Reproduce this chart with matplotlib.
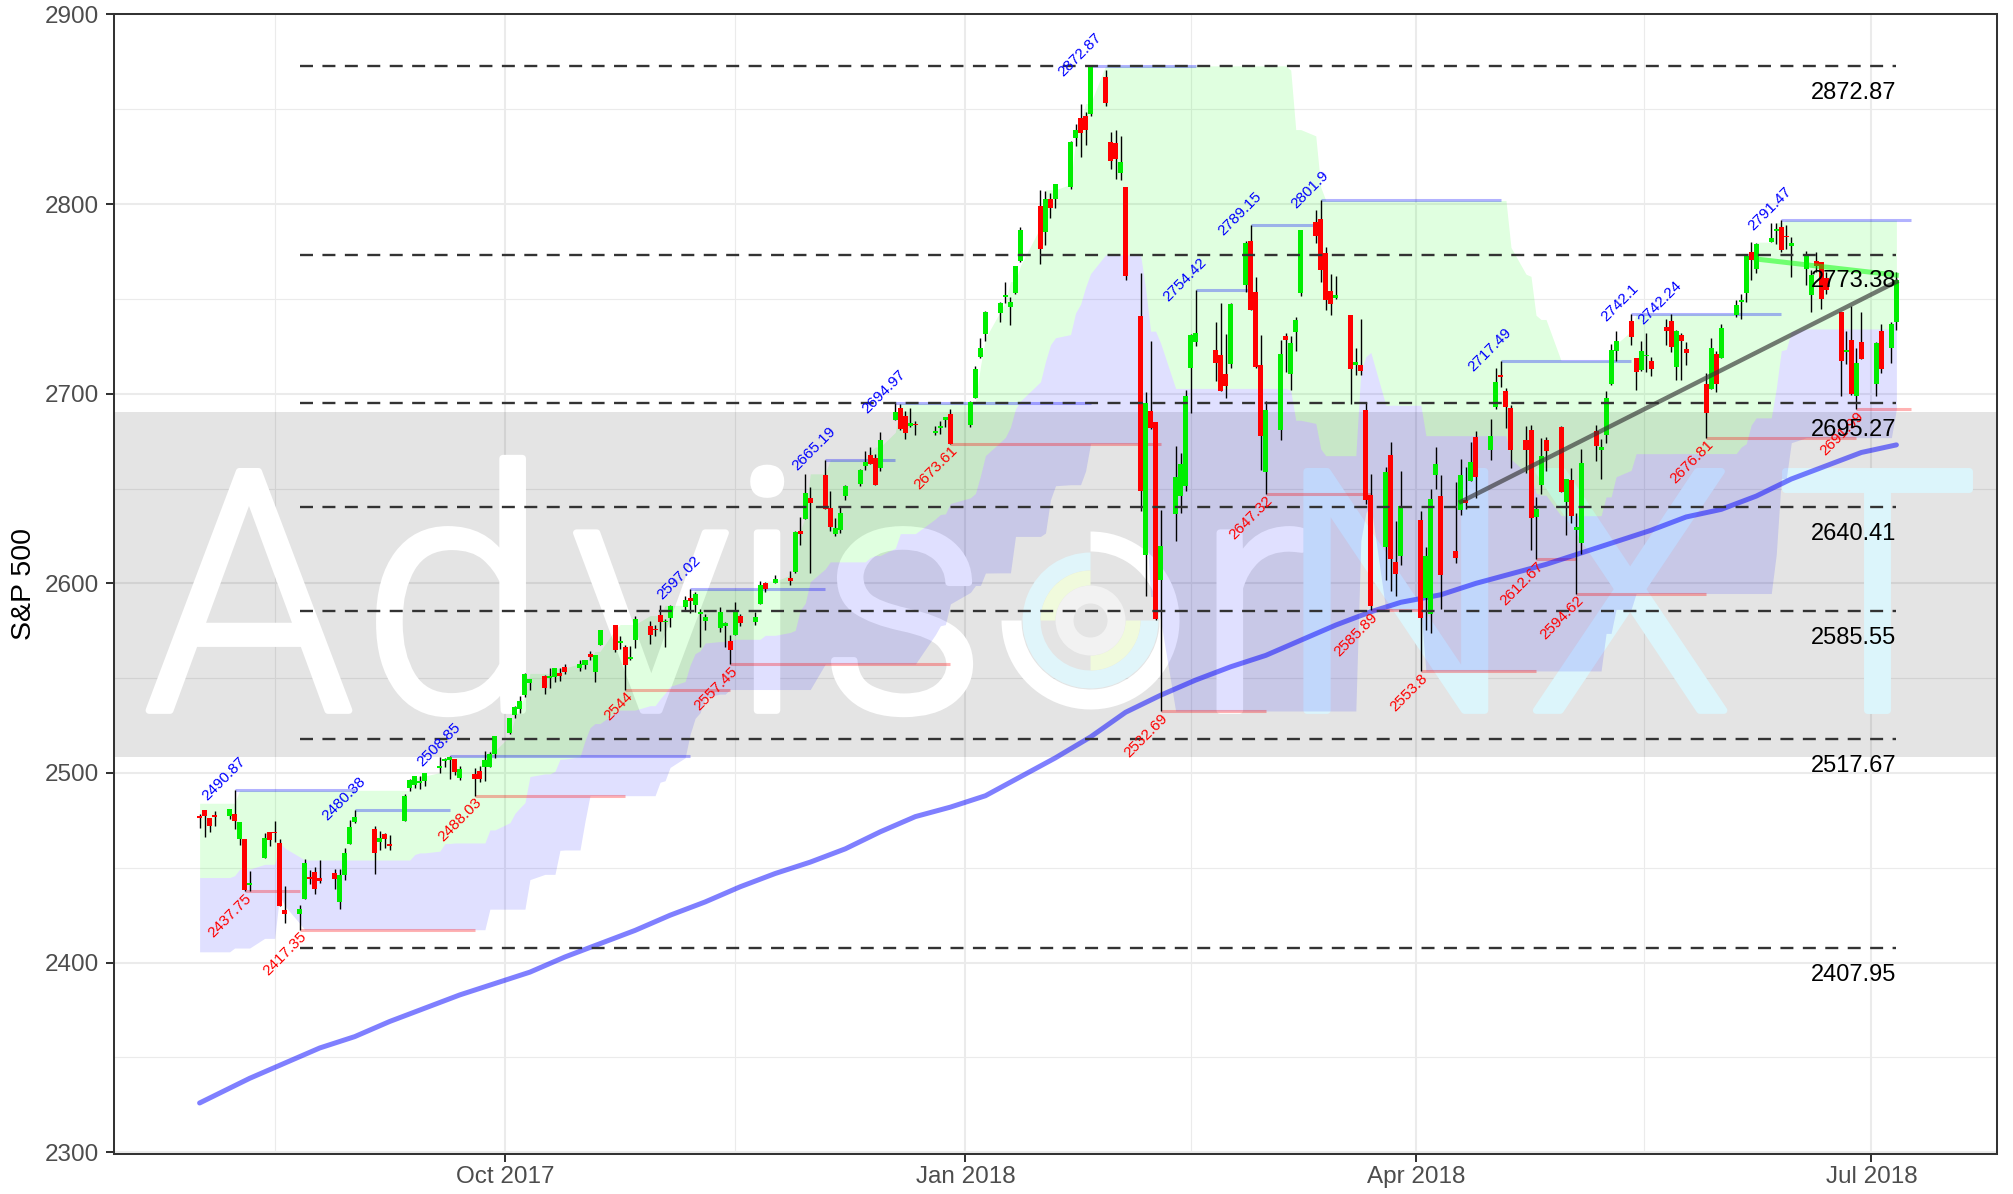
import numpy as np
import pandas as pd
import matplotlib
matplotlib.use("Agg")
import matplotlib.pyplot as plt
import matplotlib.dates as mdates
import matplotlib.patches as mpatches
import matplotlib.transforms as mtransforms
import matplotlib.patheffects as pe
from matplotlib import font_manager
from matplotlib.ticker import MultipleLocator, FixedLocator

plt.rcParams['font.family'] = ['Liberation Sans', 'DejaVu Sans']

# trading days 2017-06-23 .. 2018-07-06 (the first 26 rows only feed the channel)
holidays = ['2017-07-04', '2017-09-04', '2017-11-23', '2017-12-25', '2018-01-01',
            '2018-01-15', '2018-02-19', '2018-03-30', '2018-05-28', '2018-07-04']
days = pd.bdate_range('2017-06-23', '2018-07-06')
days = days[~days.isin(pd.to_datetime(holidays))]

opens = [
    # Jun 2017
    2434.65, 2443.32, 2436.34, 2428.70, 2442.38, 2429.20,
    # Jul 2017
    2431.39, 2430.78, 2423.44, 2413.52, 2424.51, 2427.35, 2435.75, 2444.99, 2449.16, 2459.50,
    2455.88, 2463.85, 2475.56, 2467.40, 2472.04, 2477.88, 2479.97, 2482.76, 2469.12, 2475.94,
    # Aug 2017
    2477.10, 2480.38, 2476.03, 2476.88, 2477.14, 2478.35, 2465.35, 2465.38, 2441.04, 2454.96,
    2468.66, 2468.63, 2462.95, 2427.64, 2425.50, 2433.75, 2444.88, 2447.91, 2444.72, 2447.35,
    2431.94, 2446.06, 2462.65,
    # Sep 2017
    2474.42, 2470.35, 2463.83, 2468.06, 2462.25, 2474.52, 2491.94, 2493.89, 2494.56, 2495.67,
    2502.51, 2506.29, 2506.84, 2507.16, 2497.26, 2499.39, 2501.04, 2503.30, 2503.41, 2509.96,
    # Oct 2017
    2521.20, 2530.34, 2533.48, 2540.86, 2547.44, 2551.39, 2549.99, 2550.62, 2552.88, 2555.66,
    2555.57, 2557.17, 2562.87, 2553.39, 2567.56, 2578.08, 2568.66, 2566.52, 2560.08, 2570.26,
    2577.75, 2575.99,
    # Nov 2017
    2583.21, 2579.46, 2581.93, 2587.47, 2592.11, 2588.71, 2584.00, 2580.18, 2576.53, 2577.75,
    2569.45, 2572.95, 2582.94, 2579.49, 2589.17, 2600.31, 2600.42, 2602.66, 2605.94, 2627.82,
    2633.93,
    # Dec 2017
    2645.10, 2657.19, 2639.78, 2626.24, 2628.38, 2646.21, 2652.19, 2661.73, 2667.59, 2665.87,
    2660.63, 2685.92, 2692.71, 2688.18, 2683.02, 2684.22, 2679.09, 2682.10, 2686.10, 2689.15,
    # Jan 2018
    2683.73, 2697.85, 2719.31, 2731.33, 2742.67, 2751.15, 2745.55, 2752.97, 2770.18, 2798.96,
    2784.99, 2802.40, 2802.60, 2809.16, 2835.05, 2845.42, 2846.24, 2847.48, 2866.86, 2832.74,
    2832.41,
    # Feb 2018
    2816.45, 2808.92, 2741.06, 2614.78, 2690.95, 2685.01, 2601.78, 2636.75, 2646.27, 2651.21,
    2713.46, 2727.14, 2722.99, 2720.53, 2710.42, 2715.80, 2757.37, 2780.45, 2753.78,
    # Mar 2018
    2715.22, 2658.89, 2681.06, 2730.18, 2710.18, 2732.75, 2752.91, 2790.54, 2792.31, 2774.06,
    2754.27, 2750.57, 2741.38, 2715.05, 2714.99, 2691.36, 2646.71, 2619.35, 2667.57, 2611.30,
    2614.41,
    # Apr 2018
    2633.45, 2592.17, 2584.04, 2657.36, 2645.82, 2617.18, 2638.41, 2643.69, 2653.83, 2676.90,
    2670.10, 2692.74, 2710.11, 2701.16, 2692.56, 2675.40, 2680.80, 2634.92, 2651.65, 2675.47,
    2682.51,
    # May 2018
    2642.96, 2654.24, 2628.08, 2621.45, 2680.34, 2670.26, 2678.12, 2705.02, 2722.70, 2738.47,
    2718.59, 2712.62, 2719.71, 2717.35, 2735.39, 2738.34, 2713.98, 2730.94, 2723.60, 2705.11,
    2702.43, 2720.98,
    # Jun 2018
    2718.70, 2741.67, 2748.46, 2753.25, 2774.84, 2765.84, 2780.18, 2785.60, 2787.94, 2783.21,
    2777.78, 2765.79, 2752.01, 2769.73, 2769.28, 2760.79, 2742.94, 2722.12, 2728.45, 2698.69,
    2727.13,
    # Jul 2018
    2704.95, 2733.27, 2724.19, 2737.68,
]

highs = [
    2441.40, 2450.42, 2440.15, 2442.97, 2442.73, 2432.71,
    2439.17, 2434.90, 2424.28, 2426.92, 2432.00, 2429.30, 2445.76, 2449.32, 2463.54, 2462.82,
    2460.92, 2473.83, 2477.62, 2472.54, 2473.10, 2481.24, 2481.69, 2484.04, 2473.53, 2477.96,
    2478.51, 2480.38, 2476.03, 2480.00, 2480.95, 2490.87, 2474.41, 2465.38, 2448.09, 2468.22,
    2468.90, 2474.93, 2465.02, 2440.27, 2430.58, 2454.77, 2448.91, 2450.39, 2453.96, 2449.12,
    2449.19, 2460.31, 2475.01,
    2480.38, 2471.97, 2469.64, 2468.62, 2467.11, 2488.95, 2496.77, 2498.37, 2498.43, 2500.23,
    2508.32, 2507.84, 2508.85, 2507.16, 2503.47, 2502.54, 2503.51, 2511.75, 2510.81, 2519.44,
    2529.23, 2535.13, 2540.53, 2552.51, 2549.41, 2551.82, 2555.23, 2555.24, 2555.33, 2557.65,
    2559.47, 2559.71, 2564.11, 2562.36, 2575.44, 2578.29, 2572.18, 2567.40, 2567.07, 2582.98,
    2580.03, 2578.29,
    2588.40, 2581.11, 2588.42, 2593.38, 2597.02, 2595.47, 2586.50, 2583.81, 2587.66, 2579.66,
    2572.84, 2590.09, 2583.96, 2584.64, 2601.19, 2600.94, 2604.21, 2606.41, 2627.69, 2634.89,
    2657.74,
    2650.62, 2665.19, 2648.72, 2634.41, 2640.99, 2651.65, 2660.33, 2669.72, 2671.88, 2668.09,
    2679.63, 2694.97, 2694.44, 2691.01, 2692.64, 2685.35, 2682.74, 2685.64, 2687.66, 2692.12,
    2695.89, 2714.37, 2729.29, 2743.45, 2748.51, 2759.14, 2750.80, 2767.56, 2787.85, 2807.54,
    2807.04, 2805.83, 2810.33, 2833.03, 2842.24, 2852.97, 2848.56, 2872.87, 2870.62, 2837.75,
    2839.26,
    2835.96, 2808.92, 2763.39, 2701.04, 2727.67, 2685.27, 2638.67, 2672.61, 2668.84, 2702.10,
    2731.51, 2754.42, 2737.60, 2747.75, 2731.26, 2747.76, 2780.64, 2789.15, 2761.52,
    2730.89, 2696.25, 2728.09, 2732.08, 2730.60, 2740.45, 2786.57, 2796.98, 2801.90, 2777.11,
    2763.03, 2761.85, 2741.38, 2724.22, 2739.14, 2695.68, 2657.67, 2661.36, 2674.78, 2632.65,
    2659.07,
    2638.30, 2619.14, 2649.86, 2672.08, 2656.88, 2653.55, 2665.45, 2661.43, 2674.72, 2680.26,
    2686.49, 2713.34, 2717.49, 2702.84, 2693.94, 2682.86, 2683.55, 2645.30, 2676.48, 2677.35,
    2682.87,
    2655.27, 2660.87, 2637.14, 2670.93, 2683.35, 2676.34, 2701.27, 2726.11, 2732.86, 2742.10,
    2718.59, 2727.76, 2731.96, 2719.50, 2739.19, 2742.24, 2733.33, 2731.97, 2727.36, 2710.67,
    2729.34, 2722.50,
    2736.93, 2749.16, 2752.61, 2772.39, 2779.90, 2779.39, 2790.21, 2789.80, 2791.47, 2789.06,
    2782.81, 2774.99, 2765.05, 2774.86, 2769.28, 2764.17, 2742.94, 2732.91, 2746.09, 2724.34,
    2743.26,
    2727.26, 2736.58, 2737.83, 2764.41,
]

lows = [
    2431.11, 2437.03, 2419.38, 2428.02, 2405.70, 2421.65,
    2428.69, 2422.05, 2407.70, 2413.52, 2422.27, 2412.79, 2435.75, 2441.69, 2446.69, 2457.16,
    2450.34, 2463.85, 2468.43, 2465.06, 2466.32, 2474.91, 2474.94, 2459.93, 2464.66, 2468.53,
    2471.14, 2466.48, 2468.85, 2472.08, 2475.88, 2470.32, 2462.08, 2437.75, 2437.85, 2454.96,
    2461.61, 2463.86, 2430.01, 2420.69, 2417.35, 2433.67, 2441.42, 2436.19, 2442.22, 2439.03,
    2428.20, 2443.77, 2462.65,
    2473.85, 2446.55, 2459.20, 2460.29, 2459.40, 2474.52, 2490.37, 2492.14, 2491.35, 2493.16,
    2499.92, 2503.19, 2496.67, 2499.00, 2496.54, 2488.03, 2495.12, 2495.91, 2502.93, 2507.99,
    2520.40, 2528.85, 2531.80, 2540.02, 2543.79, 2541.60, 2544.86, 2547.95, 2548.31, 2552.09,
    2553.59, 2554.69, 2559.67, 2547.92, 2567.56, 2563.77, 2565.58, 2544.00, 2559.80, 2565.94,
    2568.25, 2572.15,
    2574.92, 2566.17, 2576.77, 2585.66, 2584.35, 2585.02, 2566.33, 2575.57, 2574.48, 2566.56,
    2557.45, 2572.95, 2577.62, 2578.24, 2589.17, 2595.23, 2600.42, 2598.87, 2605.44, 2620.32,
    2633.93,
    2605.52, 2639.03, 2627.73, 2624.75, 2626.53, 2644.10, 2651.47, 2659.78, 2662.85, 2652.01,
    2659.14, 2685.92, 2680.74, 2676.11, 2682.40, 2678.13, 2677.96, 2678.91, 2682.69, 2673.61,
    2682.36, 2697.77, 2719.07, 2727.92, 2737.60, 2747.86, 2736.06, 2752.78, 2769.64, 2768.64,
    2778.38, 2792.56, 2798.08, 2808.12, 2830.59, 2824.81, 2830.94, 2846.18, 2851.48, 2818.27,
    2813.04,
    2812.70, 2759.97, 2638.17, 2593.07, 2681.33, 2580.56, 2532.69, 2622.45, 2637.08, 2648.87,
    2689.82, 2725.11, 2706.76, 2701.29, 2697.77, 2713.74, 2753.78, 2744.22, 2713.54,
    2659.65, 2647.32, 2675.75, 2711.26, 2701.74, 2722.65, 2751.54, 2779.26, 2758.68, 2744.38,
    2741.47, 2749.97, 2694.59, 2710.05, 2709.79, 2641.59, 2585.89, 2601.81, 2596.12, 2593.06,
    2609.72,
    2553.80, 2575.49, 2573.61, 2649.58, 2586.27, 2610.79, 2635.78, 2639.25, 2653.83, 2645.05,
    2665.16, 2692.05, 2703.63, 2681.90, 2660.61, 2657.99, 2617.32, 2612.67, 2647.16, 2659.01,
    2648.04,
    2625.41, 2631.70, 2594.62, 2615.32, 2664.70, 2655.20, 2674.14, 2704.54, 2717.45, 2725.47,
    2701.91, 2712.17, 2711.36, 2709.18, 2725.70, 2721.88, 2707.38, 2707.38, 2714.99, 2676.81,
    2702.43, 2700.68,
    2718.70, 2740.54, 2739.51, 2748.46, 2760.16, 2763.59, 2780.17, 2778.78, 2774.65, 2776.52,
    2761.73, 2757.12, 2743.19, 2763.91, 2744.39, 2752.68, 2698.67, 2715.60, 2699.38, 2691.99,
    2718.03,
    2698.95, 2711.16, 2716.02, 2733.52,
]

closes = [
    2438.30, 2439.07, 2419.38, 2440.69, 2419.70, 2423.41,
    2429.01, 2432.54, 2409.75, 2425.18, 2427.43, 2425.53, 2443.25, 2447.83, 2459.27, 2459.14,
    2460.61, 2473.83, 2473.45, 2472.54, 2469.91, 2477.13, 2477.83, 2475.42, 2472.10, 2470.30,
    2476.35, 2477.57, 2472.16, 2476.83, 2480.91, 2474.92, 2474.02, 2438.21, 2441.32, 2465.84,
    2464.61, 2468.11, 2430.01, 2425.55, 2428.37, 2452.51, 2444.04, 2438.97, 2443.05, 2444.24,
    2446.30, 2457.59, 2471.65,
    2476.55, 2457.85, 2465.54, 2465.10, 2461.43, 2488.11, 2496.48, 2498.37, 2495.62, 2500.23,
    2503.87, 2506.65, 2508.24, 2500.60, 2502.22, 2496.66, 2496.84, 2507.04, 2510.06, 2519.36,
    2529.12, 2534.58, 2537.74, 2552.07, 2549.33, 2544.73, 2550.64, 2555.24, 2550.93, 2553.17,
    2557.64, 2559.36, 2561.26, 2562.10, 2575.21, 2564.98, 2569.13, 2557.15, 2560.40, 2581.07,
    2572.83, 2575.26,
    2579.36, 2579.85, 2587.84, 2591.13, 2590.64, 2594.38, 2584.62, 2582.30, 2584.84, 2578.87,
    2564.62, 2585.64, 2578.85, 2582.14, 2599.03, 2597.08, 2602.42, 2601.42, 2627.04, 2626.07,
    2647.58,
    2642.22, 2639.44, 2629.57, 2629.27, 2636.98, 2651.50, 2659.99, 2664.11, 2662.85, 2652.01,
    2675.81, 2690.16, 2681.47, 2679.25, 2684.57, 2683.34, 2680.50, 2682.62, 2687.54, 2673.61,
    2695.81, 2713.06, 2723.99, 2743.15, 2747.71, 2751.29, 2748.23, 2767.56, 2786.24, 2776.42,
    2802.56, 2798.03, 2810.30, 2832.97, 2839.13, 2837.54, 2839.25, 2872.87, 2853.53, 2822.43,
    2823.81,
    2821.98, 2762.13, 2648.94, 2695.14, 2681.66, 2581.00, 2619.55, 2656.00, 2662.94, 2698.63,
    2731.20, 2732.22, 2716.26, 2701.33, 2703.96, 2747.30, 2779.60, 2744.28, 2713.83,
    2677.67, 2691.25, 2720.94, 2728.12, 2726.80, 2738.97, 2786.57, 2783.02, 2765.31, 2749.48,
    2747.33, 2752.01, 2712.92, 2716.94, 2711.93, 2643.69, 2588.26, 2658.55, 2612.62, 2605.00,
    2640.87,
    2581.88, 2614.45, 2644.69, 2662.84, 2604.47, 2613.16, 2656.87, 2642.19, 2663.99, 2656.30,
    2677.84, 2706.39, 2708.64, 2693.13, 2670.14, 2670.29, 2634.56, 2639.40, 2666.94, 2669.91,
    2648.05,
    2654.80, 2635.67, 2629.73, 2663.42, 2672.63, 2671.92, 2697.79, 2723.07, 2727.72, 2730.13,
    2711.45, 2722.46, 2720.13, 2712.97, 2733.01, 2724.44, 2733.29, 2727.76, 2721.33, 2689.86,
    2724.01, 2705.27,
    2734.62, 2746.87, 2748.80, 2772.35, 2770.37, 2779.03, 2782.00, 2786.85, 2775.63, 2782.49,
    2779.66, 2773.75, 2762.59, 2767.32, 2749.76, 2754.88, 2717.07, 2723.06, 2699.63, 2716.31,
    2718.37,
    2726.71, 2713.22, 2736.61, 2759.82,
]

# 200-day moving average, read about once a week
sma_dates = ['2017-08-01', '2017-08-11', '2017-08-18', '2017-08-25', '2017-09-01', '2017-09-08',
             '2017-09-15', '2017-09-22', '2017-09-29', '2017-10-06', '2017-10-13', '2017-10-20',
             '2017-10-27', '2017-11-03', '2017-11-10', '2017-11-17', '2017-11-24', '2017-12-01',
             '2017-12-08', '2017-12-15', '2017-12-22', '2017-12-29', '2018-01-05', '2018-01-12',
             '2018-01-19', '2018-01-26', '2018-02-02', '2018-02-09', '2018-02-16', '2018-02-23',
             '2018-03-02', '2018-03-09', '2018-03-16', '2018-03-23', '2018-03-29', '2018-04-06',
             '2018-04-13', '2018-04-20', '2018-04-27', '2018-05-04', '2018-05-11', '2018-05-18',
             '2018-05-25', '2018-06-01', '2018-06-08', '2018-06-15', '2018-06-22', '2018-06-29',
             '2018-07-06']
sma_vals = [2326, 2339, 2347, 2355, 2361, 2369, 2376, 2383, 2389, 2395, 2403, 2410,
            2417, 2425, 2432, 2440, 2447, 2453, 2460, 2469, 2477, 2482, 2488, 2498,
            2508, 2519, 2532, 2541, 2549, 2556, 2562, 2570, 2578, 2585, 2590, 2594,
            2600, 2605, 2610, 2616, 2622, 2628, 2635, 2639, 2646, 2655, 2662, 2669,
            2673]

high_dates = ['2017-08-08', '2017-09-01', '2017-09-20', '2017-11-07', '2017-12-04', '2017-12-18',
              '2018-01-26', '2018-02-16', '2018-02-27', '2018-03-13', '2018-04-18', '2018-05-14',
              '2018-05-22', '2018-06-13']
high_vals = [2490.87, 2480.38, 2508.85, 2597.02, 2665.19, 2694.97, 2872.87, 2754.42, 2789.15,
             2801.9, 2717.49, 2742.1, 2742.24, 2791.47]
low_dates = ['2017-08-10', '2017-08-21', '2017-09-25', '2017-10-25', '2017-11-15', '2017-12-29',
             '2018-02-09', '2018-03-02', '2018-03-23', '2018-04-02', '2018-04-25', '2018-05-03',
             '2018-05-29', '2018-06-28']
low_vals = [2437.75, 2417.35, 2488.03, 2544, 2557.45, 2673.61, 2532.69, 2647.32, 2585.89,
            2553.8, 2612.67, 2594.62, 2676.81, 2691.99]
pivot_end = '2018-07-09'

levels = [2872.87, 2773.38, 2695.27, 2640.41, 2585.55, 2517.67, 2407.95]
level_span = ['2017-08-21', '2018-07-06']

trend_dates = ['2018-04-10', '2018-07-06']
trend_vals = [2643, 2759]
green_dates = ['2018-06-08', '2018-07-06']
green_vals = [2771, 2762.5]

band = [2508.3, 2690.6]

assert len(opens) == len(highs) == len(lows) == len(closes) == len(days)

df = pd.DataFrame({'open': opens, 'high': highs, 'low': lows, 'close': closes}, index=days)
upper = df['high'].rolling(26).max().shift(1)
lower = df['low'].rolling(26).min().shift(1)
mid = (upper + lower) / 2
show = df.index >= '2017-08-01'
d = df[show]
xd = mdates.date2num(d.index)

fig = plt.figure(figsize=(20.13, 11.94), dpi=100)
ax = fig.add_axes([114 / 2013, 40 / 1194, 1883 / 2013, 1140 / 1194])

# watermark: grey band with big letters and a ring logo
ax.axhspan(band[0], band[1], color='black', alpha=0.105, lw=0, zorder=1)
wm = ax.get_yaxis_transform()
letters = ['A', 'd', 'v', 'i', 's', 'r', 'N', 'X', 'T']
letter_x = [0.0717, 0.1811, 0.2852, 0.3468, 0.4190, 0.6038, 0.6808, 0.8051, 0.9363]
letter_col = ['white'] * 6 + ['#dcf5fb'] * 3
wm_font = font_manager.FontProperties(family='Roboto', weight=300, size=242)
for ch, lx, lc in zip(letters, letter_x, letter_col):
    ax.text(lx, 2533, ch, transform=wm, ha='center', va='baseline', fontproperties=wm_font,
            color=lc, zorder=1.1,
            path_effects=[pe.withStroke(linewidth=5, foreground=lc)])

logo_x = mdates.date2num(pd.Timestamp('2018-01-26'))
ltr = fig.dpi_scale_trans + mtransforms.ScaledTranslation(logo_x, 2580.4, ax.transData)
for r, w, t1, t2, col in [(0.89, 0.20, 180, 450, 'white'),
                          (0.68, 0.18, 90, 360, '#e0f5fa'),
                          (0.50, 0.15, 90, 180, '#f0fadc'),
                          (0.50, 0.15, 270, 360, '#f0fadc'),
                          (0.35, 0.18, 0, 360, '#f2f2f2')]:
    ax.add_patch(mpatches.Wedge((0, 0), r, t1, t2, width=w, transform=ltr,
                                color=col, lw=0, zorder=1.2))

# channel
ax.fill_between(xd, mid[show], upper[show], color='#00ff00', alpha=0.12, lw=0, zorder=2)
ax.fill_between(xd, lower[show], mid[show], color='#0000ff', alpha=0.12, lw=0, zorder=2)

# pivot lines, each runs to the next pivot of its kind
for dates, vals, col in [(high_dates, high_vals, 'blue'), (low_dates, low_vals, 'red')]:
    st = pd.to_datetime(dates)
    en = list(st[1:]) + [pd.Timestamp(pivot_end)]
    ax.hlines(vals, mdates.date2num(st), mdates.date2num(en), colors=col, alpha=0.3,
              lw=2.2, zorder=2.5)

ax.plot(pd.to_datetime(sma_dates), sma_vals, color='#0000ff', alpha=0.5, lw=3.6,
        solid_capstyle='round', zorder=3)

# candles
up = d['close'].values >= d['open'].values
body_lo = np.minimum(d['open'].values, d['close'].values)
body_h = np.maximum(np.abs(d['close'].values - d['open'].values), 0.9)
ax.vlines(xd, d['low'].values, d['high'].values, color='black', lw=1.0, zorder=4)
ax.bar(xd, body_h, width=1.0, bottom=body_lo, color=np.where(up, '#00ee00', '#ff0000'),
       lw=0, zorder=5)

# retracement levels
lx0, lx1 = pd.to_datetime(level_span)
for v in levels:
    ax.plot([lx0, lx1], [v, v], color='#333333', lw=1.7, dashes=(5.5, 4), zorder=6)
    ax.annotate(f'{v:.2f}', xy=(lx1, v), xytext=(0, -11.5), textcoords='offset points',
                ha='right', va='top', fontsize=17, color='black', zorder=9)

ax.plot(pd.to_datetime(trend_dates), trend_vals, color='#333333', alpha=0.65, lw=3.2,
        zorder=7)
ax.plot(pd.to_datetime(green_dates), green_vals, color='#00ff00', alpha=0.5, lw=3.6,
        zorder=7)

for dt, v in zip(pd.to_datetime(high_dates), high_vals):
    ax.annotate(f'{v:g}', xy=(dt, v), xytext=(-4.5, 4.5), textcoords='offset points',
                rotation=45, rotation_mode='anchor', ha='center', va='bottom',
                fontsize=11, color='blue', zorder=8)
for dt, v in zip(pd.to_datetime(low_dates), low_vals):
    ax.annotate(f'{v:g}', xy=(dt, v), xytext=(0, 0), textcoords='offset points',
                rotation=45, rotation_mode='anchor', ha='right', va='top',
                fontsize=11, color='red', zorder=8)

# axes
x0 = mdates.date2num(pd.Timestamp('2017-08-01'))
x1 = mdates.date2num(pd.Timestamp(pivot_end))
pad = 0.05 * (x1 - x0)
ax.set_xlim(x0 - pad, x1 + pad)
ax.set_ylim(2299.1, 2900.2)

ax.xaxis.set_major_locator(mdates.MonthLocator(bymonth=[1, 4, 7, 10]))
ax.xaxis.set_major_formatter(mdates.DateFormatter('%b %Y'))
qs = mdates.date2num(pd.date_range('2017-07-01', '2018-10-01', freq='QS'))
ax.xaxis.set_minor_locator(FixedLocator((qs[:-1] + qs[1:]) / 2))
ax.yaxis.set_major_locator(MultipleLocator(100))
ax.yaxis.set_minor_locator(MultipleLocator(50))

ax.set_axisbelow(True)
ax.grid(which='major', color='#ebebeb', lw=1.45)
ax.grid(which='minor', color='#ebebeb', lw=0.8)
for s in ax.spines.values():
    s.set_color('#333333')
    s.set_linewidth(1.45)
ax.tick_params(which='major', length=5.8, width=1.45, color='#333333', labelcolor='#4d4d4d',
               labelsize=17.5)
ax.tick_params(axis='y', pad=5)
ax.tick_params(axis='x', pad=2.5)
ax.tick_params(which='minor', length=0)

ax.set_ylabel('S&P 500', fontsize=20.5, color='black')
ax.yaxis.set_label_coords(-0.041, 0.5)

fig.savefig('out.png', dpi=100)
